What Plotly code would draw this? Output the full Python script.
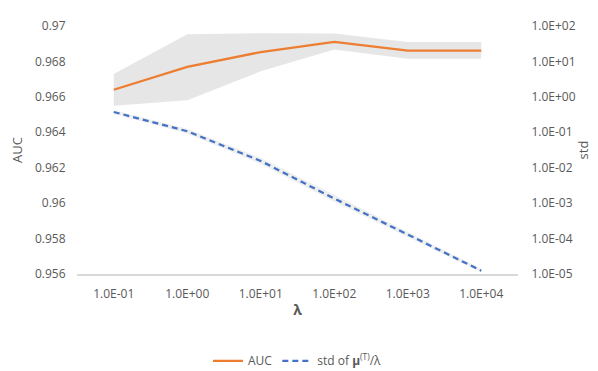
import plotly.graph_objects as go

categories = ["1.0E-01", "1.0E+00", "1.0E+01", "1.0E+02", "1.0E+03", "1.0E+04"]
auc = [0.96640, 0.96769, 0.96853, 0.96911, 0.96861, 0.96861]
auc_upper = [0.96729, 0.96953, 0.96959, 0.96957, 0.96910, 0.96910]
auc_lower = [0.96550, 0.96581, 0.96744, 0.96868, 0.96815, 0.96815]
std_mu = [0.374, 0.107, 0.0155, 0.00135, 1.30e-4, 1.24e-5]
std_upper = [0.42, 0.125, 0.019, 0.0017, 1.55e-4, 1.40e-5]
std_lower = [0.33, 0.092, 0.0128, 0.00110, 1.10e-4, 1.10e-5]

left_ticks = [0.956, 0.958, 0.96, 0.962, 0.964, 0.966, 0.968, 0.97]
right_tickvals = [1e-5, 1e-4, 1e-3, 1e-2, 1e-1, 1e0, 1e1, 1e2]
right_ticktext = ["1.0E-05", "1.0E-04", "1.0E-03", "1.0E-02", "1.0E-01", "1.0E+00", "1.0E+01", "1.0E+02"]

FONT = "Open Sans"
GREY = "#595959"

fig = go.Figure()
# AUC band
fig.add_trace(go.Scatter(x=categories, y=auc_lower, mode="lines", line=dict(width=0),
                         showlegend=False, hoverinfo="skip"))
fig.add_trace(go.Scatter(x=categories, y=auc_upper, mode="lines", line=dict(width=0),
                         fill="tonexty", fillcolor="#e6e6e6", showlegend=False, hoverinfo="skip"))
# std band
fig.add_trace(go.Scatter(x=categories, y=std_lower, mode="lines", line=dict(width=0),
                         yaxis="y2", showlegend=False, hoverinfo="skip"))
fig.add_trace(go.Scatter(x=categories, y=std_upper, mode="lines", line=dict(width=0),
                         fill="tonexty", fillcolor="#efefef", yaxis="y2",
                         showlegend=False, hoverinfo="skip"))
# lines
fig.add_trace(go.Scatter(x=categories, y=auc, mode="lines", name="AUC",
                         line=dict(color="#ED7D31", width=2.25)))
fig.add_trace(go.Scatter(x=categories, y=std_mu, mode="lines", yaxis="y2",
                         name="std of <b>μ</b><sup>(T)</sup>/λ",
                         line=dict(color="#4472C4", width=2.25, dash="6px,4px")))

fig.update_layout(
    width=598, height=371,
    margin=dict(l=69, r=88, t=18, b=105, autoexpand=False),
    paper_bgcolor="white", plot_bgcolor="white",
    font=dict(family=FONT, size=12, color=GREY),
    xaxis=dict(type="category", range=[-0.5, 5.5], showgrid=False, automargin=False,
               showline=True, linecolor="#d9d9d9", linewidth=1.5,
               ticks="outside", ticklen=8, tickcolor="rgba(0,0,0,0)",
               tickfont=dict(size=12, color=GREY),
               title=dict(text="<b>λ</b>", font=dict(size=14, color=GREY), standoff=4)),
    yaxis=dict(range=[0.956, 0.97], tickvals=left_ticks, showgrid=False, zeroline=False,
               automargin=False,
               showline=False, ticks="outside", ticklen=8, tickcolor="rgba(0,0,0,0)",
               tickfont=dict(size=12, color=GREY),
               title=dict(text="AUC", font=dict(size=13, color=GREY), standoff=14)),
    yaxis2=dict(type="log", range=[-5, 2], overlaying="y", side="right",
                tickvals=right_tickvals, ticktext=right_ticktext, showgrid=False,
                zeroline=False, showline=False, automargin=False,
                ticks="outside", ticklen=10, tickcolor="rgba(0,0,0,0)",
                tickfont=dict(size=12, color=GREY),
                title=dict(text="std", font=dict(size=13, color=GREY), standoff=4)),
    legend=dict(orientation="h", traceorder="normal", x=0.50, xanchor="center",
                y=-0.35, yanchor="middle",
                font=dict(size=12, color=GREY), bgcolor="rgba(0,0,0,0)"),
    showlegend=True,
)

fig.write_html("out.html")
